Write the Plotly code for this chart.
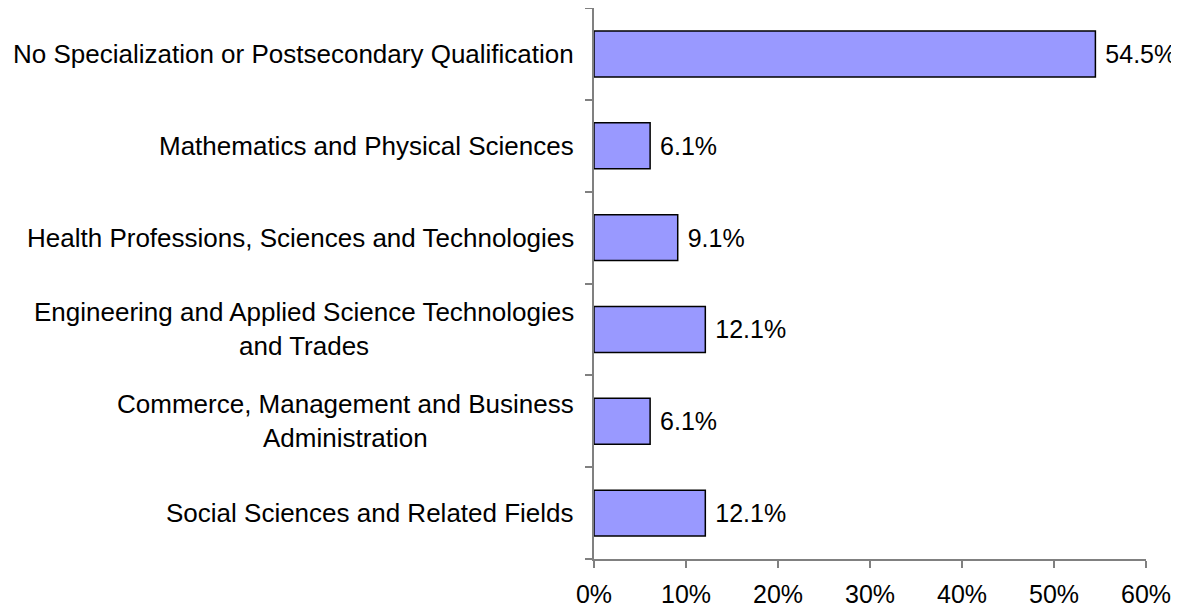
import plotly.graph_objs as go

# categories listed bottom to top
fields = [
    "Social Sciences and Related Fields",
    "Commerce, Management and Business<br>Administration",
    "Engineering and Applied Science Technologies<br>and Trades",
    "Health Professions, Sciences and Technologies",
    "Mathematics and Physical Sciences",
    "No Specialization or Postsecondary Qualification",
]
shares = [12.1, 6.1, 12.1, 9.1, 6.1, 54.5]
x_ticks = [0, 10, 20, 30, 40, 50, 60]
x_labels = ["0%", "10%", "20%", "30%", "40%", "50%", "60%"]

font = "Liberation Sans, Arial, sans-serif"

fig = go.Figure()
fig.add_trace(go.Bar(
    x=shares,
    y=fields,
    orientation="h",
    marker=dict(color="#9999FF", line=dict(color="black", width=1.5)),
    texttemplate="\u00a0%{x:.1f}%",
    textposition="outside",
    textfont=dict(family=font, size=25, color="black"),
    cliponaxis=False,
))

# category labels as annotations so wrapped lines are centred
for f in fields:
    fig.add_annotation(
        x=0, xref="paper", y=f, yref="y",
        text=f, showarrow=False,
        xanchor="right", align="center", xshift=-18,
        font=dict(family=font, size=26, color="black"),
    )

# page body adds 8px offset, so figure is sized to fit the window
fig.update_layout(
    width=1171, height=602,
    margin=dict(l=586, r=33, t=0, b=51),
    plot_bgcolor="white", paper_bgcolor="white",
    bargap=0.5, showlegend=False,
    font=dict(family=font, size=25, color="black"),
)
fig.update_xaxes(
    range=[0, 60], tickvals=x_ticks, ticktext=x_labels,
    showgrid=False, zeroline=False, automargin=False,
    showline=True, linecolor="#808080", linewidth=1.5,
    ticks="outside", ticklen=7, tickcolor="#808080", tickwidth=1.5,
    ticklabelstandoff=5,
    tickfont=dict(family=font, size=25, color="black"),
)
fig.update_yaxes(
    showticklabels=False, showgrid=False, zeroline=False, automargin=False,
    showline=True, linecolor="#808080", linewidth=1.5,
    ticks="outside", tickson="boundaries", ticklen=7,
    tickcolor="#808080", tickwidth=1.5,
)

fig.write_html("out.html")
